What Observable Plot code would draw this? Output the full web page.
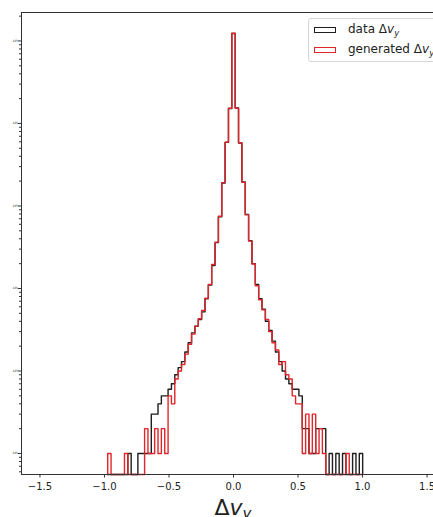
<!DOCTYPE html>
<html>
<head>
<meta charset="utf-8">
<script src="https://cdn.jsdelivr.net/npm/d3@7"></script>
<script src="https://cdn.jsdelivr.net/npm/@observablehq/plot@0.6"></script>
<style>
  html, body { margin: 0; padding: 0; background: #fff; }
  #wrap { position: relative; width: 433px; height: 517px; overflow: hidden; font-family: "DejaVu Sans", sans-serif; }
  .legend { position: absolute; left: 308px; top: 18px; width: 150px; height: 44px; box-sizing: border-box;
            border: 1px solid #d6d6d6; border-radius: 3px; background: rgba(255,255,255,0.85); }
  .item { position: absolute; left: 5px; height: 14px; display: flex; align-items: center; font-size: 12px; color: #222; white-space: nowrap; }
  .swatch { width: 20px; height: 4px; border: 1.4px solid; margin-right: 12px; background: #fff; }
  .item i { font-style: italic; }
  .item sub { font-size: 0.7em; font-style: italic; vertical-align: -0.3em; }
</style>
</head>
<body>
<div id="wrap"></div>
<script>
// ---- data ----
const binWidth = 0.026;
const firstBinCenter = -0.962;           // bin centres run from -0.962 to 0.988
const dataCounts = [
  0, 0, 0, 0, 0, 0, 1, 0, 0, 1,           // -0.962 ... -0.728
  1, 1, 1, 3, 3, 4, 5, 5, 6, 7,           // -0.702 ... -0.468
  9, 11, 13, 17, 22, 29, 35, 42, 52, 75,  // -0.442 ... -0.208
  110, 190, 360, 740, 1900, 5900, 15200,  // -0.182 ... -0.026
  123000,                                 // 0
  15400, 5800, 1950, 790, 380, 200, 112, 75, 56, 40,  // 0.026 ... 0.260
  31, 23, 17, 13, 10, 8, 7, 6, 6, 5,      // 0.286 ... 0.520
  2, 2, 1, 1, 2, 2, 2, 0, 1, 0,           // 0.546 ... 0.780
  1, 0, 1, 0, 0, 1, 0, 1                  // 0.806 ... 0.988
];
const generatedCounts = [
  1, 0, 0, 0, 0, 1, 0, 0, 0, 0,
  0, 2, 1, 1, 2, 1, 2, 1, 5, 4,
  8, 10, 12, 16, 21, 28, 35, 43, 54, 76,
  112, 195, 365, 750, 1920, 5950, 15300,
  124000,
  15300, 5850, 1930, 780, 375, 198, 108, 73, 55, 42,
  30, 22, 18, 12, 13, 9, 8, 5, 4, 4,
  1, 3, 1, 3, 1, 2, 1, 0, 0, 0,
  0, 0, 0, 1, 0, 0, 0, 0
];
const xTicks = [-1.5, -1.0, -0.5, 0.0, 0.5, 1.0, 1.5];
const yMajorTicks = [1, 10, 100, 1000, 10000, 100000];
const yMinorMultipliers = [2, 3, 4, 5, 6, 7, 8, 9];
const seriesLabels = ["data", "generated"];
const seriesColors = ["#1e1e1e", "#e0262a"];

const xDomain = [-1.643, 1.550];
const yDomain = [0.5565, 221300];

// ---- build step outlines (histtype="step") ----
function outline(counts) {
  const pts = [];
  const edge = i => firstBinCenter + (i - 0.5) * binWidth;
  const floor = c => Math.max(c, yDomain[0]);
  pts.push({x: edge(0), y: yDomain[0]});
  counts.forEach((c, i) => pts.push({x: edge(i), y: floor(c)}));
  pts.push({x: edge(counts.length), y: yDomain[0]});
  return pts;
}
const dataOutline = outline(dataCounts);
const genOutline = outline(generatedCounts);

const yMinorTicks = [];
[0.1, 1, 10, 100, 1000, 10000, 100000].forEach(d => yMinorMultipliers.forEach(m => {
  const v = d * m;
  if (v > yDomain[0] && v < yDomain[1]) yMinorTicks.push(v);
}));
const sup = {"0":"⁰","1":"¹","2":"²","3":"³","4":"⁴","5":"⁵"};

const chart = Plot.plot({
  width: 433,
  height: 517,
  marginLeft: 21,
  marginRight: 0,
  marginTop: 12,
  marginBottom: 43,
  style: {fontFamily: "DejaVu Sans, sans-serif", fontSize: "10px", background: "white", color: "#222", overflow: "hidden"},
  x: {domain: xDomain},
  y: {type: "log", domain: yDomain},
  marks: [
    Plot.line(dataOutline, {x: "x", y: "y", curve: "step-after", stroke: seriesColors[0], strokeWidth: 1.4}),
    Plot.line(genOutline, {x: "x", y: "y", curve: "step-after", stroke: seriesColors[1], strokeWidth: 1.4}),
    Plot.ruleX([xDomain[0]], {stroke: "#333", strokeWidth: 1}),
    Plot.ruleY([yDomain[0]], {stroke: "#333", strokeWidth: 1}),
    Plot.ruleY([yDomain[1]], {stroke: "#333", strokeWidth: 1}),
    Plot.axisX({ticks: xTicks, tickSize: 3.5, tickPadding: 5, tickFormat: d3.format(".1f"), label: null, fontSize: 10, stroke: "#333"}),
    Plot.axisY({ticks: yMajorTicks, tickSize: 3.5, tickPadding: 0.5, label: null, fontSize: 3, stroke: "#333",
                tickFormat: d => "10" + sup[String(Math.round(Math.log10(d)))]}),
    Plot.axisY({ticks: yMinorTicks, tickSize: 2, tickFormat: () => "", label: null, stroke: "#333"})
  ]
});

const wrap = document.getElementById("wrap");
wrap.appendChild(chart);

// x-axis label  Δv_y
const xs = chart.scale("x");
const label = d3.select(chart).append("text")
  .attr("x", xs.apply(0))
  .attr("y", 515)
  .attr("text-anchor", "middle")
  .attr("font-family", "DejaVu Sans, sans-serif")
  .attr("font-size", 22)
  .attr("fill", "#222");
label.append("tspan").text("Δ");
label.append("tspan").attr("font-style", "italic").text("v");
label.append("tspan").attr("font-style", "italic").attr("font-size", 15).attr("dy", 4).text("y");

// legend
const legend = document.createElement("div");
legend.className = "legend";
seriesLabels.forEach((name, i) => {
  const item = document.createElement("div");
  item.className = "item";
  item.style.top = (4 + i * 20) + "px";
  item.innerHTML = `<span class="swatch" style="border-color:${seriesColors[i]}"></span>` +
                   `<span>${name} Δ<i>v</i><sub>y</sub></span>`;
  legend.appendChild(item);
});
wrap.appendChild(legend);
</script>
</body>
</html>
